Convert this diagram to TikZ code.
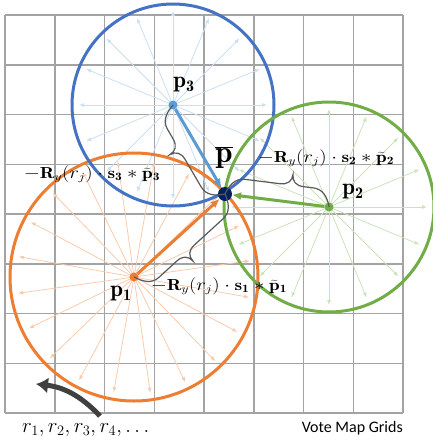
\documentclass[tikz,border=0pt]{standalone}
\usepackage{fontspec}
\newfontfamily\calib{Carlito}
\usetikzlibrary{arrows.meta}
\definecolor{gridc}{HTML}{A3A3A3}
\definecolor{orng}{HTML}{ED7D31}
\definecolor{orngl}{HTML}{F8CBAD}
\definecolor{grn}{HTML}{70AD47}
\definecolor{grnl}{HTML}{CBE3BB}
\definecolor{blu}{HTML}{4472C4}
\definecolor{blul}{HTML}{CCDFF2}
\definecolor{blum}{HTML}{5B9BD5}
\definecolor{navy}{HTML}{002060}
\definecolor{bracec}{HTML}{595959}
\definecolor{arrc}{HTML}{404040}
\begin{document}
\begin{tikzpicture}[x=1pt,y=-1pt,
  gridline/.style={draw=gridc,line width=1.5pt},
  ray/.style={line width=0.8pt,-{Latex[length=5pt,width=4pt]}},
  ring/.style={line width=3pt},
  main/.style={line width=3pt,-{Latex[length=9pt,width=8pt]}},
  dot/.style={circle,inner sep=0pt,minimum size=9pt},
  bigdot/.style={circle,inner sep=0pt,minimum size=14pt,fill=navy},
  brcline/.style={draw=bracec,line width=1.2pt},
  lab/.style={inner sep=0pt,font=\fontsize{16}{18}\selectfont},
  plab/.style={inner sep=0pt,font=\fontsize{23}{26}\selectfont},
  pics/mybr/.style 2 args={code={
    \draw[brcline] (0,0) .. controls (3,9) and (8,17) .. (18,17)
      -- ({#1*#2-12},17) .. controls ({#1*#2-4},17) and ({#1*#2},21) .. ({#1*#2},28)
      .. controls ({#1*#2},21) and ({#1*#2+4},17) .. ({#1*#2+12},17)
      -- ({#1-18},17) .. controls ({#1-8},17) and ({#1-3},9) .. (#1,0);
  }}
]
\useasboundingbox (0,0) rectangle (433,442);
% grid
\foreach \i in {0,...,8} {
  \draw[gridline] (5+49.75*\i,15) -- (5+49.75*\i,413);
  \draw[gridline] (5,15+49.75*\i) -- (403,15+49.75*\i);
}
% centres
\coordinate (c1) at (134,277);
\coordinate (c2) at (329,207);
\coordinate (c3) at (173,105);
% light rays
\foreach \a in {0,22.5,...,337.5} \draw[ray,blul] (c3) -- ++(\a:94pt);
\foreach \a in {0,22.5,...,337.5} \draw[ray,grnl] (c2) -- ++(\a:98pt);
\foreach \a in {8,26,...,350} \draw[ray,orngl] (c1) -- ++(\a:117pt);
% circles
\draw[ring,orng] (c1) circle[radius=124pt];
\draw[ring,blu] (c3) circle[radius=101pt];
\draw[ring,grn] (c2) circle[radius=105pt];
% dots
\node[bigdot] (pb) at (225,194) {};
\node[dot,fill=blum] (p3) at (c3) {};
\node[dot,fill=grn] (p2) at (c2) {};
\node[dot,fill=orng] (p1) at (c1) {};
% main arrows
\draw[main,blum] (p3) -- (pb);
\draw[main,grn] (p2) -- (pb);
\draw[main,orng] (p1) -- (pb);
% braces
\pic[rotate=120.3,x=1pt,y=1pt] at (pb.center) {mybr={103}{0.60}};
\pic[rotate=-7.1,x=1pt,y=1pt] at (pb.center) {mybr={105}{0.62}};
\pic[rotate=222.4,x=1pt,y=1pt] at (pb.center) {mybr={123}{0.56}};
% labels
\node[plab] (l3) at (184,85) {$\mathbf{p}_\mathbf{3}$};
\node[plab] (l2) at (353,192) {$\mathbf{p}_\mathbf{2}$};
\node[plab] (l1) at (121,294) {$\mathbf{p}_\mathbf{1}$};
\node[inner sep=0pt,font=\fontsize{31}{34}\selectfont] (lb) at (224,158) {$\overline{\mathbf{p}}$};
\node[lab] (t3) at (92,174) {\scalebox{1.2}[1]{$-\mathbf{R}_y(r_j)\cdot\mathbf{s}_\mathbf{3}*\widetilde{\mathbf{p}}_\mathbf{3}$}};
\node[lab] (t2) at (326,158) {\scalebox{1.2}[1]{$-\mathbf{R}_y(r_j)\cdot\mathbf{s}_\mathbf{2}*\widetilde{\mathbf{p}}_\mathbf{2}$}};
\node[lab] (t1) at (219,286) {\scalebox{1.2}[1]{$-\mathbf{R}_y(r_j)\cdot\mathbf{s}_\mathbf{1}*\widetilde{\mathbf{p}}_\mathbf{1}$}};
% bottom
\coordinate (at) at (100,416);
\coordinate (ah) at (36,384);
\draw[arrc,line width=5pt,-{Latex[length=12pt,width=16pt]}] (at) to[bend right=20] (ah);
\node[inner sep=0pt,anchor=base west,font=\fontsize{21}{24}\selectfont] (rs) at (22,432) {$r_1,r_2,r_3,r_4,\ldots$};
\node[inner sep=0pt,anchor=base east,font=\calib\fontsize{16}{18}\selectfont] (vm) at (403,432) {Vote Map Grids};
\end{tikzpicture}
\end{document}
